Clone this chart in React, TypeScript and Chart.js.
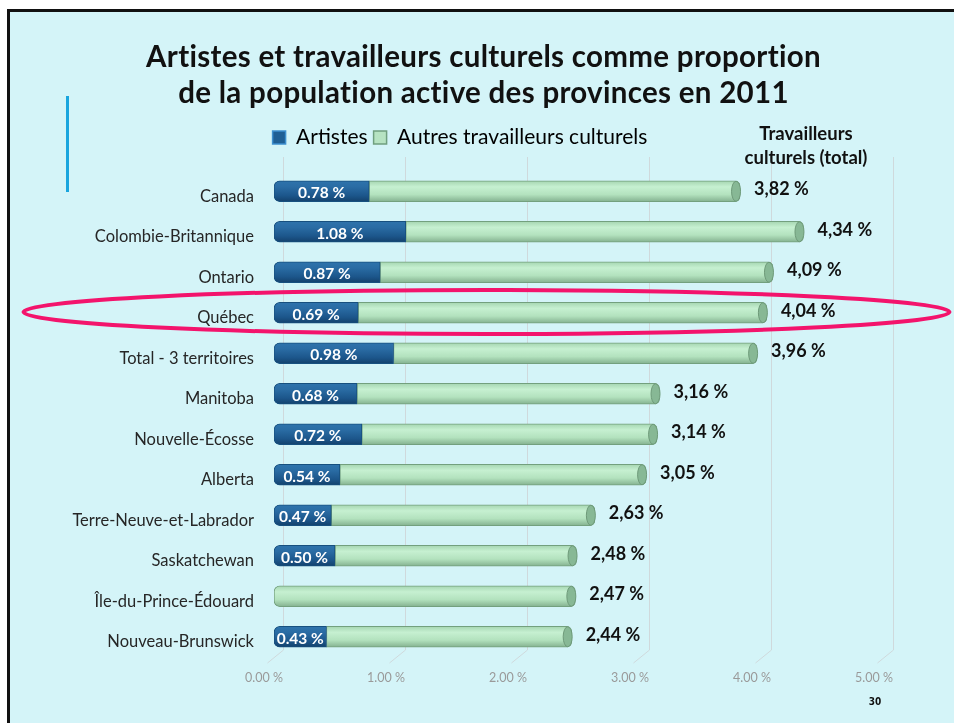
import { useEffect, useRef } from 'react';
import { Chart, registerables } from 'chart.js';

Chart.register(...registerables);

const titleLines = ['Artistes et travailleurs culturels comme proportion', 'de la population active des provinces en 2011'];
const totalHeader = ['Travailleurs', 'culturels (total)'];
const pageNumber = '30';

const categories = [
  'Canada',
  'Colombie-Britannique',
  'Ontario',
  'Québec',
  'Total - 3 territoires',
  'Manitoba',
  'Nouvelle-Écosse',
  'Alberta',
  'Terre-Neuve-et-Labrador',
  'Saskatchewan',
  'Île-du-Prince-Édouard',
  'Nouveau-Brunswick',
];
const seriesNames = ['Artistes', 'Autres travailleurs culturels'];
const artistes: (number | null)[] = [0.78, 1.08, 0.87, 0.69, 0.98, 0.68, 0.72, 0.54, 0.47, 0.5, null, 0.43];
const autres = [3.04, 3.26, 3.22, 3.35, 2.98, 2.48, 2.42, 2.51, 2.16, 1.98, 2.47, 2.01];
const totals = [3.82, 4.34, 4.09, 4.04, 3.96, 3.16, 3.14, 3.05, 2.63, 2.48, 2.47, 2.44];
const xTicks = [0, 1, 2, 3, 4, 5];

const FONT = 'Lato, "Open Sans", sans-serif';

function barGradient(ctx: any, kind: 'blue' | 'green') {
  const chart = ctx.chart;
  const y = chart.scales && chart.scales.y;
  if (!chart.chartArea || !y || ctx.dataIndex === undefined) return kind === 'blue' ? '#1f5f95' : '#b5e4c0';
  const cy = y.getPixelForValue(ctx.dataIndex);
  const h = 11;
  const g = chart.ctx.createLinearGradient(0, cy - h, 0, cy + h);
  if (kind === 'blue') {
    g.addColorStop(0, '#2f74ad');
    g.addColorStop(0.3, '#2a6ca4');
    g.addColorStop(0.7, '#1c568b');
    g.addColorStop(1, '#123f69');
  } else {
    g.addColorStop(0, '#a2d3ae');
    g.addColorStop(0.3, '#c6f0d1');
    g.addColorStop(0.65, '#b3e2be');
    g.addColorStop(1, '#80ad8c');
  }
  return g;
}

const gridPlugin = {
  id: 'grid3d',
  beforeDatasetsDraw(chart: any) {
    const { ctx, chartArea, scales } = chart;
    const xs = scales.x;
    ctx.save();
    ctx.strokeStyle = '#cfd9dc';
    ctx.lineWidth = 1;
    xTicks.forEach((v) => {
      const px = Math.round(xs.getPixelForValue(v)) + 9.5;
      ctx.beginPath();
      ctx.moveTo(px, chartArea.top - 14);
      ctx.lineTo(px, chartArea.bottom - 7);
      ctx.lineTo(px - 16, chartArea.bottom + 6);
      ctx.stroke();
    });
    ctx.restore();
  },
};

const labelPlugin = {
  id: 'barLabels',
  afterDatasetsDraw(chart: any) {
    const { ctx } = chart;
    const m0 = chart.getDatasetMeta(0);
    const m1 = chart.getDatasetMeta(1);
    ctx.save();
    // cylinder end caps
    m1.data.forEach((el: any) => {
      const p = el.getProps(['x', 'y', 'height'], true);
      ctx.beginPath();
      ctx.ellipse(p.x - 4, p.y, 4.5, p.height / 2 - 0.5, 0, 0, Math.PI * 2);
      ctx.fillStyle = '#87b895';
      ctx.fill();
      ctx.strokeStyle = '#6e9a79';
      ctx.lineWidth = 1;
      ctx.stroke();
    });
    ctx.textBaseline = 'middle';
    ctx.textAlign = 'center';
    ctx.fillStyle = '#ffffff';
    ctx.font = `bold 15.5px ${FONT}`;
    m0.data.forEach((el: any, i: number) => {
      const v = artistes[i];
      if (v === null || v === undefined) return;
      const p = el.getProps(['x', 'y', 'base'], true);
      ctx.fillText(v.toFixed(2) + ' %', (p.x + p.base) / 2, p.y + 2);
    });
    ctx.textAlign = 'left';
    ctx.fillStyle = '#111111';
    ctx.font = `bold 18px ${FONT}`;
    m1.data.forEach((el: any, i: number) => {
      const p = el.getProps(['x', 'y'], true);
      ctx.fillText(totals[i].toFixed(2).replace('.', ',') + ' %', p.x + 14, p.y - 2);
    });
    ctx.restore();
  },
};

export default function App() {
  const ref = useRef<HTMLCanvasElement | null>(null);

  useEffect(() => {
    if (!ref.current) return;
    Chart.defaults.font.family = FONT;
    const chart = new Chart(ref.current, {
      type: 'bar',
      data: {
        labels: categories,
        datasets: [
          {
            label: seriesNames[0],
            data: artistes,
            backgroundColor: (c: any) => barGradient(c, 'blue'),
            borderColor: '#17507f',
            borderWidth: 1,
            borderSkipped: false,
            borderRadius: { topLeft: 6, bottomLeft: 6, topRight: 0, bottomRight: 0 },
            barThickness: 21,
          },
          {
            label: seriesNames[1],
            data: autres,
            backgroundColor: (c: any) => barGradient(c, 'green'),
            borderColor: '#73a07e',
            borderWidth: 1,
            borderSkipped: false,
            borderRadius: (c: any) => {
              const noBlue = artistes[c.dataIndex] === null;
              return { topLeft: noBlue ? 6 : 0, bottomLeft: noBlue ? 6 : 0, topRight: 5, bottomRight: 5 };
            },
            barThickness: 21,
          },
        ] as any,
      },
      options: {
        indexAxis: 'y',
        responsive: false,
        animation: false,
        layout: { padding: { left: 36, right: 70, top: 121, bottom: 26 } },
        scales: {
          x: {
            stacked: true,
            min: 0,
            max: 5,
            afterBuildTicks: (s: any) => {
              s.ticks = xTicks.map((v) => ({ value: v }));
            },
            afterFit: (s: any) => {
              s.height = 40;
            },
            grid: { display: false, drawTicks: false },
            border: { display: false },
            ticks: {
              padding: 13,
              labelOffset: -10,
              color: '#9a9a9a',
              font: { size: 12.5, family: FONT },
              callback: (v: any) => Number(v).toFixed(2) + ' %',
            },
          },
          y: {
            stacked: true,
            afterFit: (s: any) => {
              s.width = 238;
            },
            grid: { display: false, drawTicks: false },
            border: { display: false },
            ticks: {
              padding: 20,
              labelOffset: 5,
              color: '#262626',
              font: { size: 16.5, family: FONT },
            },
          },
        },
        plugins: {
          legend: {
            display: true,
            position: 'top',
            labels: {
              boxWidth: 13,
              boxHeight: 13,
              padding: 6,
              color: '#1a1a1a',
              font: { size: 21, family: FONT },
              generateLabels: () => [
                { text: seriesNames[0], fillStyle: '#1f5f95', strokeStyle: '#3d8fcf', lineWidth: 1.5, datasetIndex: 0 },
                { text: seriesNames[1], fillStyle: '#b6e3c2', strokeStyle: '#6f9f7f', lineWidth: 1.5, datasetIndex: 1 },
              ],
            },
          },
          subtitle: {
            display: true,
            text: '',
            weight: 500,
            position: 'top',
            font: { size: 1, lineHeight: 1 },
            padding: { top: 12, bottom: 0 },
          },
          tooltip: { enabled: false },
        } as any,
      },
      plugins: [gridPlugin, labelPlugin],
    } as any);
    return () => chart.destroy();
  }, []);

  return (
    <div style={{ position: 'fixed', left: 0, top: 0, width: 954, height: 723, overflow: 'hidden', background: '#ffffff', fontFamily: FONT }}>
      <div style={{ position: 'absolute', left: 7, top: 9, width: 960, height: 730, borderLeft: '3px solid #111', borderTop: '3px solid #111', background: '#d4f4f8' }} />
      <div style={{ position: 'absolute', left: 66, top: 96, width: 3, height: 96, background: '#19a5de' }} />
      <canvas ref={ref} width={954} height={723} style={{ position: 'absolute', left: 0, top: 0, width: 954, height: 723 }} />
      <div style={{ position: 'absolute', left: 0, top: 38, width: 967, textAlign: 'center', fontSize: 29.5, lineHeight: '36px', fontWeight: 700, color: '#111', letterSpacing: 0.3 }}>
        {titleLines.map((t) => (
          <div key={t}>{t}</div>
        ))}
      </div>
      <div style={{ position: 'absolute', left: 706, top: 121, width: 200, textAlign: 'center', fontSize: 18.5, lineHeight: '24px', fontWeight: 700, color: '#111' }}>
        {totalHeader.map((t) => (
          <div key={t}>{t}</div>
        ))}
      </div>
      <div style={{ position: 'absolute', left: 855, top: 696, width: 40, textAlign: 'center', fontSize: 10, fontWeight: 700, color: '#111', fontFamily: '"DejaVu Sans Condensed", "Liberation Sans Narrow", sans-serif' }}>
        {pageNumber}
      </div>
      <svg width={954} height={723} style={{ position: 'absolute', left: 0, top: 0, pointerEvents: 'none' }}>
        <ellipse cx={486.5} cy={312} rx={463} ry={22} fill="none" stroke="#f3146c" strokeWidth={4} />
      </svg>
    </div>
  );
}
